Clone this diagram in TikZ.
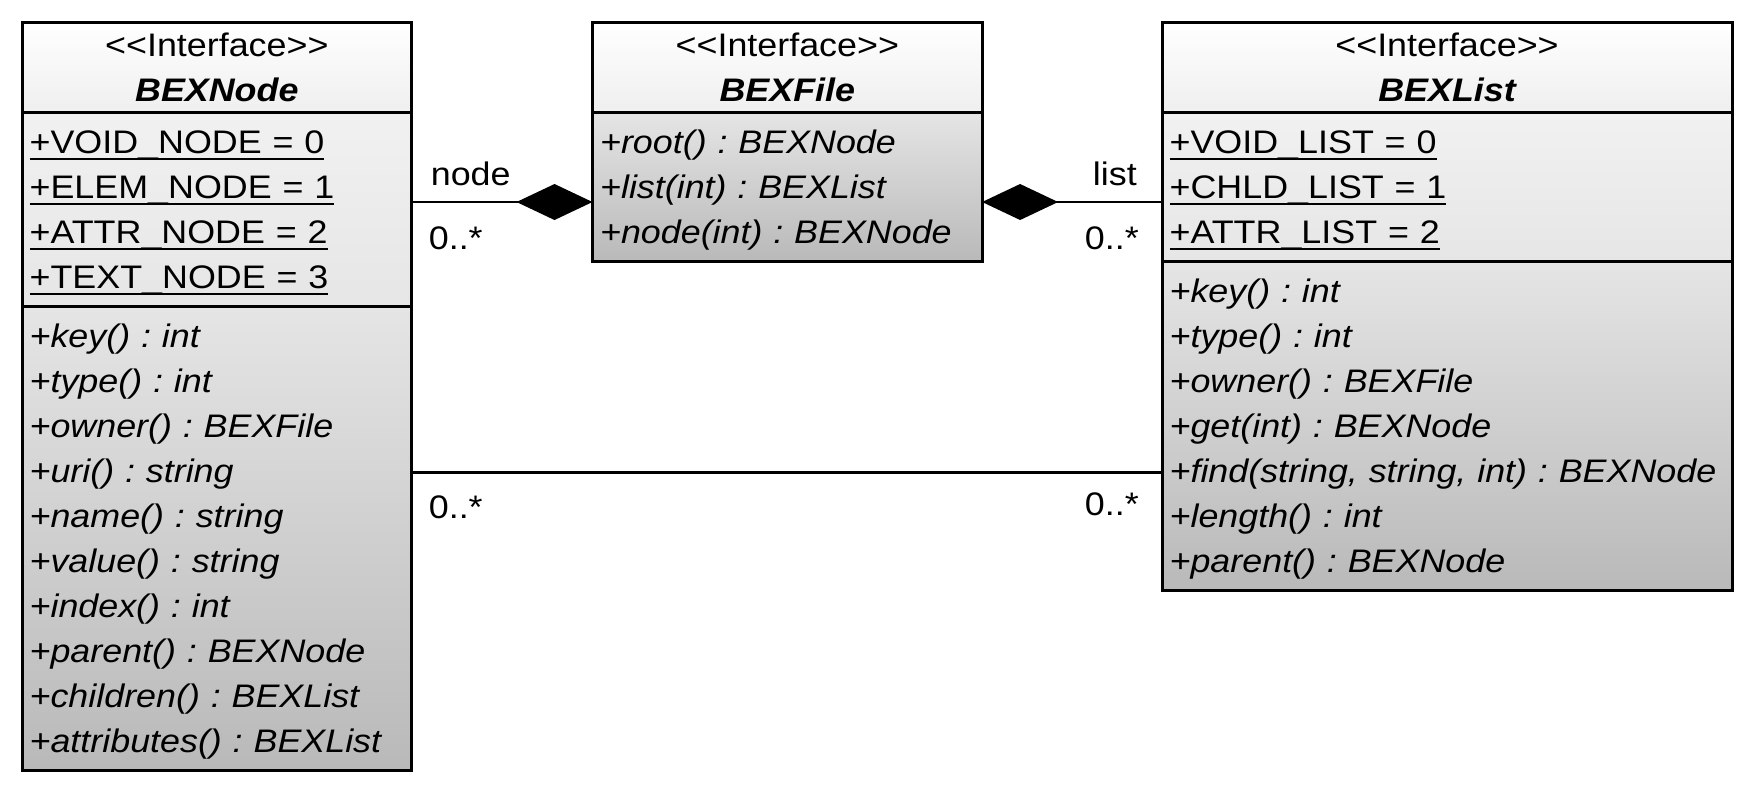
\documentclass[tikz,border=0pt]{standalone}
\usepackage{fontspec}
\setmainfont[FakeStretch=1.1]{Liberation Sans}
\usepackage{xcolor}
\usepackage{tikz}
\usetikzlibrary{arrows.meta,positioning}
\definecolor{hdtop}{HTML}{FFFFFF}
\definecolor{hdbot}{HTML}{EFEFEF}
\definecolor{attop}{HTML}{F1F1F1}
\definecolor{atbot}{HTML}{E6E6E6}
\definecolor{optop}{HTML}{E5E5E5}
\definecolor{opbot}{HTML}{B9B9B9}
\frenchspacing
\newcommand{\rowstrut}{\leavevmode\rule[-5.5pt]{0pt}{22.5pt}}
\newcommand{\stat}[1]{\leavevmode\setbox0\hbox{#1}\rlap{\rule[-3.5pt]{\wd0}{1.1pt}}\box0}
\tikzset{
  umlfont/.style={font=\fontsize{16.3}{22.5}\selectfont},
  cbox/.style={draw=black, line width=1.5pt, umlfont, text width=#1, inner xsep=3.8pt, outer sep=0pt,
               anchor=north west, execute at begin node=\rowstrut, execute at end node=\rowstrut},
  hdbox/.style={cbox=#1, align=center, inner ysep=0pt, top color=hdtop, bottom color=hdbot},
  atbox/.style={cbox=#1, align=left, inner ysep=3.5pt, top color=attop, bottom color=atbot},
  opbox/.style={cbox=#1, align=left, inner ysep=3.5pt, top color=optop, bottom color=opbot,
                font=\fontsize{16.3}{22.5}\selectfont\itshape},
  role/.style={umlfont, inner sep=0pt},
  compo/.style={-{Diamond[length=38pt,width=18pt]}, line width=1.25pt},
  assoc/.style={line width=1.25pt},
}
\def\xN{22}
\def\xF{592.5}
\def\xL{1162}
\def\yT{22}
\def\wN{187.2pt}
\def\wL{277.4pt}
\newcommand{\iface}[1]{<{}<Interface>{}>\\{\bfseries\itshape #1}}

\begin{document}
\begin{tikzpicture}[x=0.5pt,y=-0.5pt]
  \useasboundingbox (0,0) rectangle (1760,800);
  % BEXNode
  \node[hdbox=\wN] (nH) at (\xN,\yT) {\iface{BEXNode}};
  \node[atbox=\wN, below=0pt of nH] (nA) {\stat{+VOID\_NODE = 0}\\\stat{+ELEM\_NODE = 1}\\
    \stat{+ATTR\_NODE = 2}\\\stat{+TEXT\_NODE = 3}};
  \node[opbox=\wN, below=0pt of nA] (nO) {+key() : int\\+type() : int\\+owner() : BEXFile\\
    +uri() : string\\+name() : string\\+value() : string\\+index() : int\\
    +parent() : BEXNode\\+children() : BEXList\\+attributes() : BEXList};
  % BEXFile
  \node[hdbox=\wN] (fH) at (\xF,\yT) {\iface{BEXFile}};
  \node[opbox=\wN, below=0pt of fH] (fO) {+root() : BEXNode\\+list(int) : BEXList\\+node(int) : BEXNode};
  % BEXList
  \node[hdbox=\wL] (lH) at (\xL,\yT) {\iface{BEXList}};
  \node[atbox=\wL, below=0pt of lH] (lA) {\stat{+VOID\_LIST = 0}\\\stat{+CHLD\_LIST = 1}\\
    \stat{+ATTR\_LIST = 2}};
  \node[opbox=\wL, below=0pt of lA] (lO) {+key() : int\\+type() : int\\+owner() : BEXFile\\
    +get(int) : BEXNode\\+find(string, string, int) : BEXNode\\+length() : int\\+parent() : BEXNode};
  % links
  \coordinate (cmp) at (0,202);
  \coordinate (asc) at (0,472.5);
  \draw[compo] (nA.east |- cmp) -- (fO.west |- cmp)
    node[role, at start, anchor=base west, xshift=9pt, yshift=8.5pt] (rN) {node}
    node[role, at start, anchor=base west, xshift=8pt, yshift=-23.5pt] (mN) {0..*};
  \draw[compo] (lA.west |- cmp) -- (fO.east |- cmp)
    node[role, at start, anchor=base east, xshift=-12pt, yshift=8.5pt] (rL) {list}
    node[role, at start, anchor=base east, xshift=-11pt, yshift=-23.5pt] (mL) {0..*};
  \draw[assoc] (nO.east |- asc) -- (lO.west |- asc)
    node[role, at start, anchor=base west, xshift=8pt, yshift=-23pt] (mA) {0..*}
    node[role, at end, anchor=base east, xshift=-11pt, yshift=-21.5pt] (mB) {0..*};
\end{tikzpicture}
\end{document}
